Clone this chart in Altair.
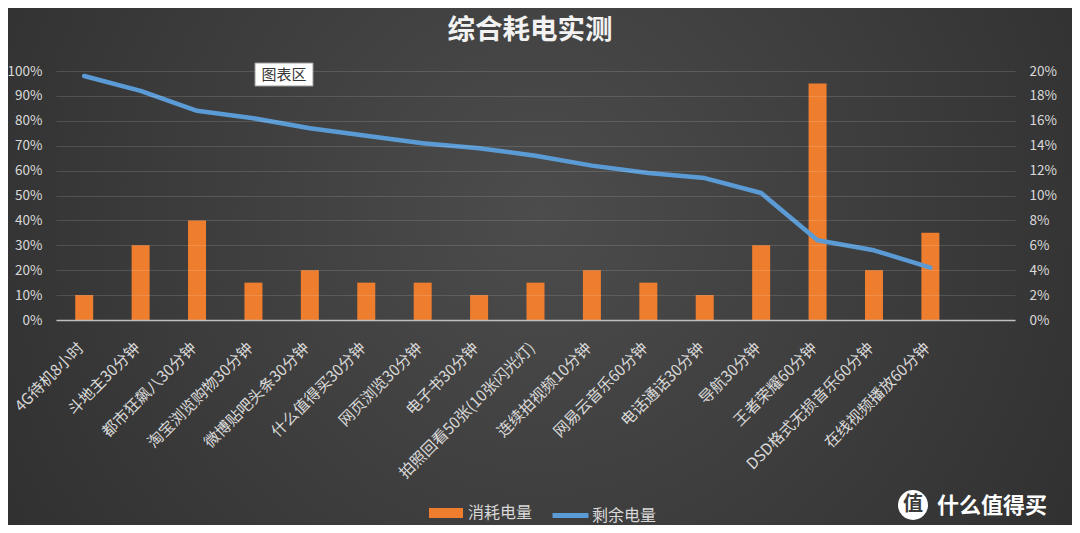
import altair as alt
import pandas as pd

categories = [
    "4G待机8小时", "斗地主30分钟", "都市狂飙八30分钟", "淘宝浏览购物30分钟",
    "微博贴吧头条30分钟", "什么值得买30分钟", "网页浏览30分钟", "电子书30分钟",
    "拍照回看50张(10张闪光灯)", "连续拍视频10分钟", "网易云音乐60分钟", "电话通话30分钟",
    "导航30分钟", "王者荣耀60分钟", "DSD格式无损音乐60分钟", "在线视频播放60分钟",
]
consumed = [0.02, 0.06, 0.08, 0.03, 0.04, 0.03, 0.03, 0.02,
            0.03, 0.04, 0.03, 0.02, 0.06, 0.19, 0.04, 0.07]
remaining = [0.98, 0.92, 0.84, 0.81, 0.77, 0.74, 0.71, 0.69,
             0.66, 0.62, 0.59, 0.57, 0.51, 0.32, 0.28, 0.21]
left_ticks = [0, 0.1, 0.2, 0.3, 0.4, 0.5, 0.6, 0.7, 0.8, 0.9, 1.0]
right_ticks = [0, 0.02, 0.04, 0.06, 0.08, 0.10, 0.12, 0.14, 0.16, 0.18, 0.20]
x_domain = categories + [" "]

bar_df = pd.DataFrame({"item": categories, "consumed": consumed, "s": "消耗电量"})
line_df = pd.DataFrame({"item": categories, "remaining": remaining, "s": "剩余电量"})
one = pd.DataFrame({"k": [0]})

FONT = "Noto Sans CJK SC"
LBL = "#d9d9d9"
W, H = 959, 249
PL, PT, PR, PB = 48, 63, 57, 205

xscale = alt.Scale(domain=x_domain, paddingInner=0, paddingOuter=0)
xaxis = alt.Axis(title=None, labelAngle=-45, labelAlign="right", labelBaseline="top",
                 labelPadding=20, labelOffset=-8, ticks=False, domainColor="#bfbfbf",
                 domainWidth=1.5, labelColor=LBL, labelFontSize=15.5, labelFont=FONT,
                 grid=False, labelLimit=400, zindex=1)

bg = alt.Chart(one).mark_rect(
    fill=alt.RadialGradient(
        gradient="radial",
        stops=[alt.GradientStop(offset=0, color="#4c4c4c"),
               alt.GradientStop(offset=1, color="#2a2a2a")],
        x1=0.5, y1=0.45, x2=0.5, y2=0.45, r1=0, r2=0.72)
).encode(x=alt.value(-PL), x2=alt.value(W + PR), y=alt.value(-PT), y2=alt.value(H + PB))

bars = alt.Chart(bar_df).mark_bar(size=18).encode(
    x=alt.X("item:N", scale=xscale, axis=xaxis),
    y=alt.Y("consumed:Q", scale=alt.Scale(domain=[0, 0.2], nice=False),
            axis=alt.Axis(orient="right", format=".0%", values=right_ticks, title=None,
                          ticks=False, domain=False, grid=False, labelColor=LBL,
                          labelFontSize=13.5, labelPadding=14, labelFont=FONT, zindex=1)),
    fill=alt.Fill("s:N", scale=alt.Scale(domain=["消耗电量"], range=["#ee7d2e"]),
                  legend=alt.Legend(orient="none", legendX=373, legendY=432, title=None,
                                    symbolType="M-1,-0.5H2.4V0.5H-1Z", symbolSize=400,
                                    symbolStrokeWidth=0, labelOffset=19, labelColor=LBL,
                                    labelFontSize=16, labelFont=FONT)),
)

line = alt.Chart(line_df).mark_line(strokeWidth=4.5, strokeCap="round", strokeJoin="round").encode(
    x=alt.X("item:N", scale=xscale, axis=xaxis),
    y=alt.Y("remaining:Q", scale=alt.Scale(domain=[0, 1], nice=False),
            axis=alt.Axis(orient="left", format=".0%", values=left_ticks, title=None,
                          ticks=False, domain=False, grid=True, gridColor="#ffffff",
                          gridOpacity=0.13, gridWidth=1, labelColor=LBL,
                          labelFontSize=13.5, labelPadding=14, labelFont=FONT, zindex=1)),
    stroke=alt.Stroke("s:N", scale=alt.Scale(domain=["剩余电量"], range=["#5b9bd5"]),
                      legend=alt.Legend(orient="none", legendX=494, legendY=424, title=None,
                                        symbolType="stroke", symbolSize=1296,
                                        symbolStrokeWidth=5, labelOffset=1, labelColor=LBL,
                                        labelFontSize=16, labelFont=FONT)),
)

title = alt.Chart(one).mark_text(
    text="综合耗电实测", font=FONT, fontSize=27.5, fontWeight="bold", color="#f2f2f2",
    align="center", baseline="middle"
).encode(x=alt.value(474), y=alt.value(-40))

tip_box = alt.Chart(one).mark_rect(fill="#ffffff", stroke="#9a9a9a", strokeWidth=1).encode(
    x=alt.value(199), x2=alt.value(257), y=alt.value(-8), y2=alt.value(15))
tip_text = alt.Chart(one).mark_text(
    text="图表区", font=FONT, fontSize=15, color="#333333", align="center", baseline="middle"
).encode(x=alt.value(228), y=alt.value(3.5))

wm_circle = alt.Chart(one).mark_point(filled=True, shape="circle", size=900, color="#ffffff", opacity=1).encode(
    x=alt.value(857), y=alt.value(434))
wm_glyph = alt.Chart(one).mark_text(
    text="值", font=FONT, fontSize=20, fontWeight="bold", color="#3a3a3a",
    align="center", baseline="middle").encode(x=alt.value(857), y=alt.value(434))
wm_text = alt.Chart(one).mark_text(
    text="什么值得买", font=FONT, fontSize=22, fontWeight="bold", color="#ffffff",
    align="left", baseline="middle").encode(x=alt.value(881), y=alt.value(435))

chart = alt.layer(
    bg, bars, line, title, tip_box, tip_text, wm_circle, wm_glyph, wm_text
).resolve_scale(
    y="independent", fill="independent", stroke="independent"
).properties(
    width=W, height=H,
    padding={"left": PL, "top": PT, "right": PR, "bottom": PB},
    autosize=alt.AutoSizeParams(type="none"),
    background="#333333",
).configure_view(strokeWidth=0)

chart.save("out.html", embed_options={"renderer": "svg", "actions": False})
